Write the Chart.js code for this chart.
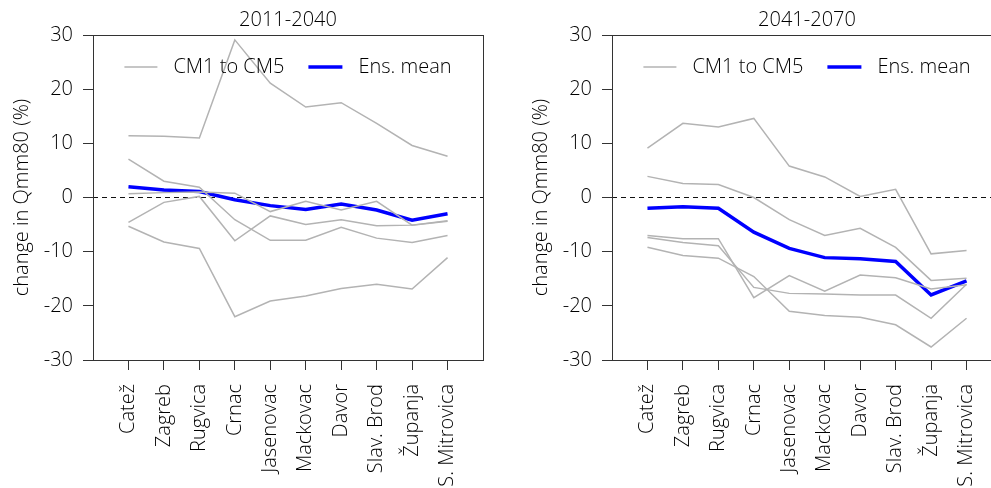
<!DOCTYPE html>
<html>
<head>
<meta charset="utf-8">
<script src="https://cdn.jsdelivr.net/npm/chart.js"></script>
<style>
  html, body { margin: 0; padding: 0; background: #fff; overflow: hidden; width: 991px; height: 488px; }
  .panel { position: absolute; top: 0; width: 500px; height: 488px; }
  #left { left: 0; }
  #right { left: 519px; }
</style>
</head>
<body>
<div class="panel" id="left"><canvas id="chart1" width="500" height="488"></canvas></div>
<div class="panel" id="right"><canvas id="chart2" width="500" height="488"></canvas></div>
<script>
// stations along the river, upstream to downstream
const stations = ['Catež', 'Zagreb', 'Rugvica', 'Crnac', 'Jasenovac', 'Mackovac', 'Davor', 'Slav. Brod', 'Županja', 'S. Mitrovica'];
const yTicks = [-30, -20, -10, 0, 10, 20, 30];

// 2011-2040
const p1_cm1 = [11.4, 11.3, 11.0, 29.1, 21.1, 16.7, 17.5, 13.7, 9.6, 7.6];
const p1_cm2 = [7.1, 3.0, 1.9, -4.1, -7.9, -7.9, -5.5, -7.5, -8.3, -7.0];
const p1_cm3 = [0.7, 0.9, 1.0, 0.8, -2.6, -0.7, -2.3, -0.7, -5.1, -4.4];
const p1_cm4 = [-4.6, -0.9, 0.2, -8.0, -3.4, -5.0, -4.1, -5.2, -5.1, -4.3];
const p1_cm5 = [-5.3, -8.2, -9.4, -22.0, -19.1, -18.2, -16.8, -16.0, -16.9, -11.1];
const p1_mean = [2.0, 1.4, 1.1, -0.4, -1.5, -2.2, -1.2, -2.3, -4.2, -3.0];

// 2041-2070
const p2_cm1 = [9.1, 13.7, 13.0, 14.6, 5.8, 3.8, 0.2, 1.5, -10.4, -9.8];
const p2_cm2 = [3.9, 2.6, 2.4, 0.0, -4.1, -7.0, -5.7, -9.2, -15.3, -14.9];
const p2_cm3 = [-7.0, -7.6, -7.6, -18.5, -14.4, -17.3, -14.3, -14.8, -16.9, -16.1];
const p2_cm4 = [-7.4, -8.3, -8.9, -16.6, -17.7, -17.8, -18.0, -18.0, -22.3, -16.0];
const p2_cm5 = [-9.2, -10.7, -11.2, -14.6, -21.0, -21.8, -22.1, -23.5, -27.6, -22.3];
const p2_mean = [-2.0, -1.7, -2.0, -6.4, -9.4, -11.1, -11.3, -11.8, -18.0, -15.4];

const FONT = "'Open Sans', 'Noto Sans', sans-serif";
const TEXT = '#000';
const GRAY = '#b3b3b3';
const BLUE = '#0000ff';

function pts(arr) {
    return arr.map((v, i) => ({ x: i + 1, y: v }));
}

// zero line, box, title and legend
const extras = {
    id: 'extras',
    beforeDatasetsDraw(chart) {
        const { ctx, chartArea: a, scales } = chart;
        const y0 = scales.y.getPixelForValue(0);
        ctx.save();
        ctx.strokeStyle = '#111';
        ctx.lineWidth = 1.2;
        ctx.setLineDash([5, 4]);
        ctx.beginPath();
        ctx.moveTo(a.left, y0);
        ctx.lineTo(a.right, y0);
        ctx.stroke();
        ctx.restore();
    },
    afterDraw(chart, args, opts) {
        const { ctx, chartArea: a } = chart;
        const cx = (a.left + a.right) / 2;
        ctx.save();
        ctx.strokeStyle = '#333';
        ctx.lineWidth = 1;
        ctx.strokeRect(a.left + 0.5, a.top + 0.5, a.right - a.left, a.bottom - a.top);

        ctx.fillStyle = TEXT;
        ctx.font = `300 20px ${FONT}`;
        ctx.textAlign = 'center';
        ctx.textBaseline = 'middle';
        ctx.fillText(opts.title, cx, 20);

        // legend
        ctx.textAlign = 'left';
        const t1 = 'CM1 to CM5', t2 = 'Ens. mean';
        const w1 = ctx.measureText(t1).width, w2 = ctx.measureText(t2).width;
        const total = 33 + 16 + w1 + 24 + 34 + 16 + w2;
        let x = cx - total / 2;
        const ly = 67;
        ctx.strokeStyle = GRAY;
        ctx.lineWidth = 1.5;
        ctx.beginPath(); ctx.moveTo(x, ly); ctx.lineTo(x + 33, ly); ctx.stroke();
        x += 33 + 16;
        ctx.fillText(t1, x, ly);
        x += w1 + 24;
        ctx.strokeStyle = BLUE;
        ctx.lineWidth = 3.5;
        ctx.beginPath(); ctx.moveTo(x, ly); ctx.lineTo(x + 34, ly); ctx.stroke();
        x += 34 + 16;
        ctx.fillText(t2, x, ly);
        ctx.restore();
    }
};

function makeChart(id, title, cms, mean) {
    const datasets = cms.map((d, i) => ({
        label: 'CM' + (i + 1),
        data: pts(d),
        borderColor: GRAY,
        borderWidth: 1.5,
        pointRadius: 0,
        fill: false,
        tension: 0
    }));
    datasets.push({
        label: 'Ens. mean',
        data: pts(mean),
        borderColor: BLUE,
        borderWidth: 3.5,
        pointRadius: 0,
        fill: false,
        tension: 0
    });

    return new Chart(document.getElementById(id), {
        type: 'line',
        data: { datasets: datasets },
        plugins: [extras],
        options: {
            responsive: false,
            animation: false,
            devicePixelRatio: 1,
            layout: { padding: { top: 35, right: 17, left: 0, bottom: 0 } },
            plugins: {
                legend: { display: false },
                title: { display: false },
                tooltip: { enabled: false },
                extras: { title: title }
            },
            scales: {
                x: {
                    type: 'linear',
                    min: 0,
                    max: 11,
                    afterBuildTicks: (s) => { s.ticks = stations.map((_, i) => ({ value: i + 1 })); },
                    afterFit: (s) => { s.height = 128; },
                    ticks: {
                        autoSkip: false,
                        maxRotation: 90,
                        minRotation: 90,
                        padding: 14,
                        color: TEXT,
                        font: { family: FONT, size: 20, weight: '300' },
                        callback: (v) => stations[v - 1]
                    },
                    grid: { drawOnChartArea: false, tickLength: 10, color: '#333' },
                    border: { color: '#333' }
                },
                y: {
                    min: -30,
                    max: 30,
                    afterBuildTicks: (s) => { s.ticks = yTicks.map(v => ({ value: v })); },
                    afterFit: (s) => { s.width = 93; },
                    ticks: {
                        padding: 10,
                        color: TEXT,
                        font: { family: FONT, size: 20, weight: '300' }
                    },
                    grid: { drawOnChartArea: false, tickLength: 10, color: '#333' },
                    border: { color: '#333' },
                    title: {
                        display: true,
                        text: 'change in Qmm80 (%)',
                        color: TEXT,
                        font: { family: FONT, size: 20, weight: '300' },
                        padding: { top: 10, bottom: 0 }
                    }
                }
            }
        }
    });
}

makeChart('chart1', '2011-2040', [p1_cm1, p1_cm2, p1_cm3, p1_cm4, p1_cm5], p1_mean);
makeChart('chart2', '2041-2070', [p2_cm1, p2_cm2, p2_cm3, p2_cm4, p2_cm5], p2_mean);
</script>
</body>
</html>
